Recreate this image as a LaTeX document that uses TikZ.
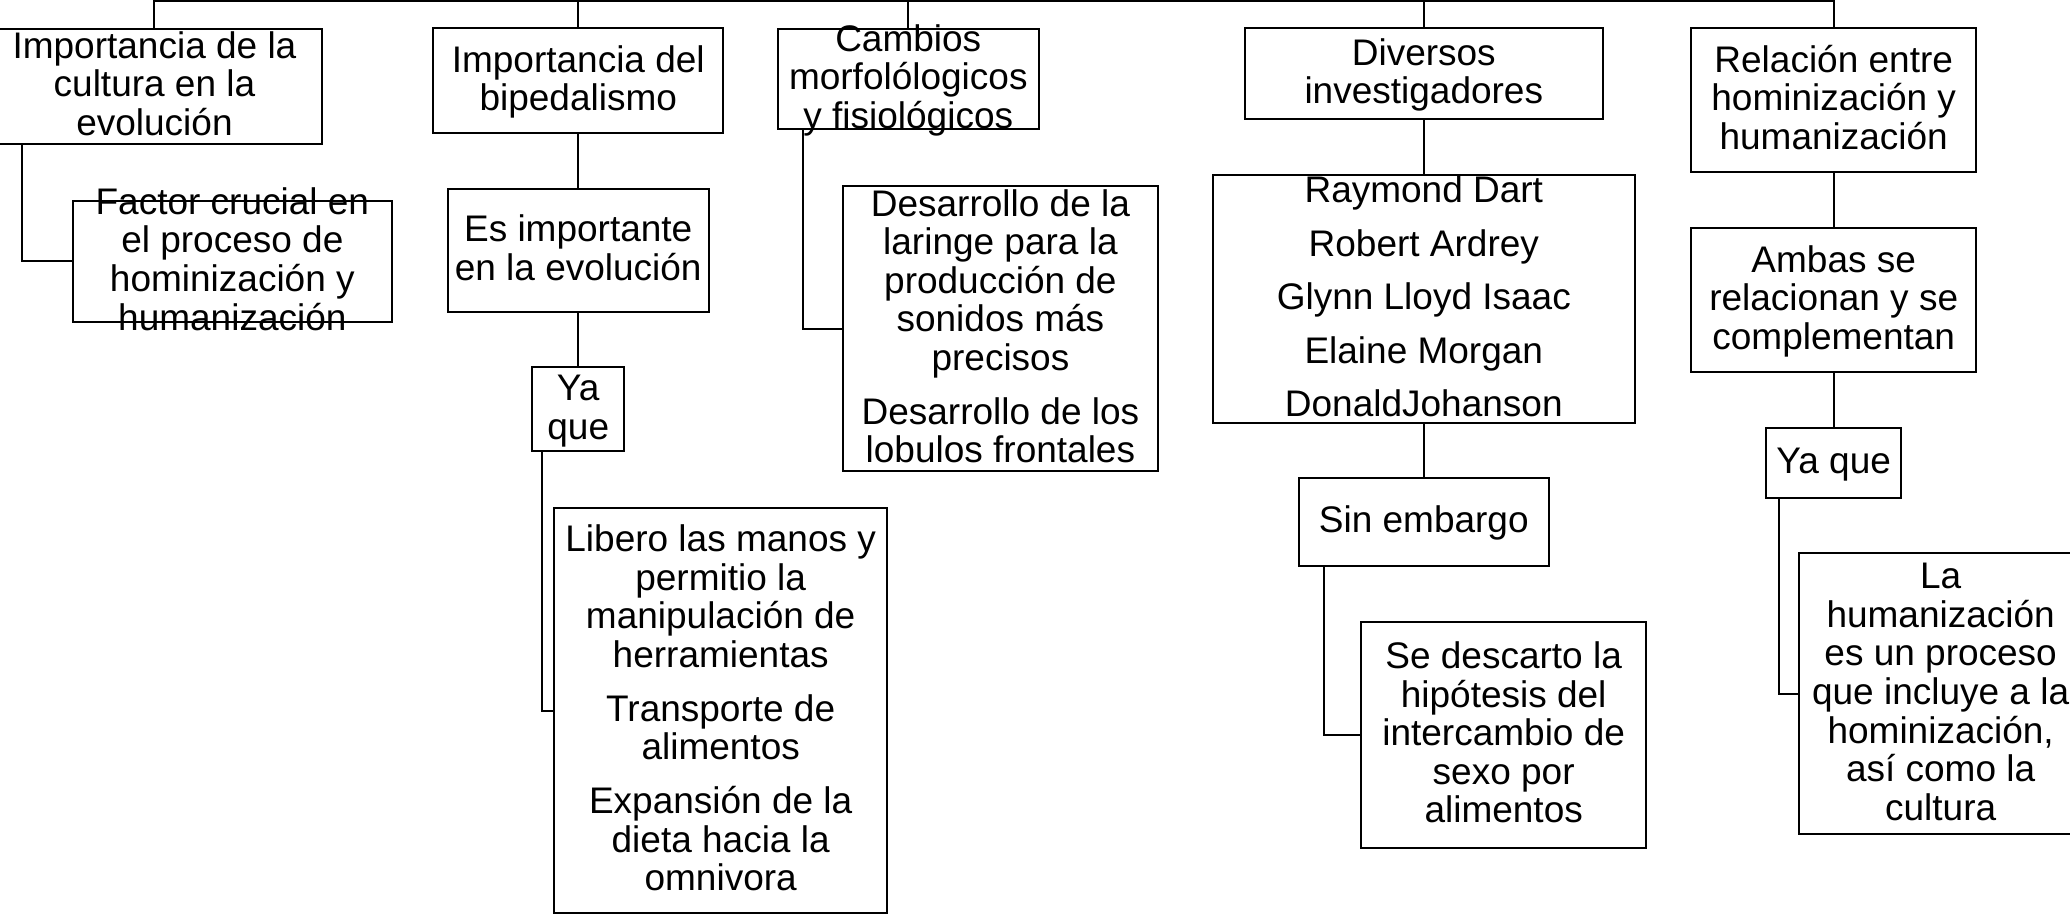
\documentclass[tikz,border=0pt]{standalone}
\usepackage{fontspec}
\setmainfont{Liberation Sans}
\usepackage{tikz}

% centred text block that does not change the size of its box
\newcommand\boxlines[1]{\makebox[0pt]{\lower3pt\vbox to 0pt{\vss\hbox{\begin{tabular}{@{}c@{}}#1\end{tabular}}\vss}}}

\begin{document}
\begin{tikzpicture}[x=0.6601pt, y=-0.6601pt, line width=1pt,
    cbox/.style 2 args={draw, rectangle, inner sep=0pt, minimum width=#1*0.6601pt, minimum height=#2*0.6601pt, font=\fontsize{18.5}{19.2}\selectfont}]
          \useasboundingbox (0,0) rectangle (1568,692);
          % cultura
          \node[cbox={254}{87}] (cult) at (117,65.5) {\boxlines{Importancia de la\\cultura en la\\evolución}};
          \node[cbox={242}{92}] (fact) at (176,198) {\boxlines{Factor crucial en\\el proceso de\\hominización y\\humanización}};
          % bipedalismo
          \node[cbox={220}{79.5}] (bip) at (438,61.3) {\boxlines{Importancia del\\bipedalismo}};
          \node[cbox={197.5}{92.6}] (evo) at (438,189.7) {\boxlines{Es importante\\en la evolución}};
          \node[cbox={69.3}{63.7}] (yaq1) at (438,310) {\boxlines{Ya\\que}};
          \node[cbox={252.3}{306.8}] (libe) at (545.9,538.2) {\boxlines{Libero las manos y\\permitio la\\manipulación de\\herramientas\\[7.8pt]Transporte de\\alimentos\\[7.8pt]Expansión de la\\dieta hacia la\\omnivora}};
          % cambios
          \node[cbox={198}{76}] (camb) at (688,60) {\boxlines{Cambios\\morfolólogicos\\y fisiológicos}};
          \node[cbox={238.5}{215.7}] (lari) at (757.8,249) {\boxlines{Desarrollo de la\\laringe para la\\producción de\\sonidos más\\precisos\\[7.8pt]Desarrollo de los\\lobulos frontales}};
          % investigadores
          \node[cbox={271}{69.4}] (dive) at (1078.5,55.7) {\boxlines{Diversos\\investigadores}};
          \node[cbox={319.5}{187.8}] (inve) at (1078.5,226.5) {\boxlines{Raymond Dart\\[7.6pt]Robert Ardrey\\[7.6pt]Glynn Lloyd Isaac\\[7.6pt]Elaine Morgan\\[7.6pt]DonaldJohanson}};
          \node[cbox={189}{66.6}] (sine) at (1078.5,395.3) {\boxlines{Sin embargo}};
          \node[cbox={216}{171.5}] (desc) at (1139,556.8) {\boxlines{Se descarto la\\hipótesis del\\intercambio de\\sexo por\\alimentos}};
          % relacion
          \node[cbox={215.7}{108.5}] (rela) at (1389,75.8) {\boxlines{Relación entre\\hominización y\\humanización}};
          \node[cbox={215.7}{108.5}] (amba) at (1389,227.2) {\boxlines{Ambas se\\relacionan y se\\complementan}};
          \node[cbox={102.5}{53}] (yaq2) at (1389,350.5) {\boxlines{Ya que}};
          \node[cbox={215}{213}] (huma) at (1470,525.5) {\boxlines{La\\humanización\\es un proceso\\que incluye a la\\hominización,\\así como la\\cultura}};
          % line along the top
          \coordinate (bar) at (0,0.8);
          \draw (cult.north) -- (cult.north |- bar) -- (rela.north |- bar) -- (rela.north);
          \foreach \n in {bip,camb,dive}
            \draw (\n.north) -- (\n.north |- bar);
          % lines down the columns
          \draw (bip.south) -- (evo.north);
          \draw (evo.south) -- (yaq1.north);
          \draw (dive.south) -- (inve.north);
          \draw (inve.south) -- (sine.north);
          \draw (rela.south) -- (amba.north);
          \draw (amba.south) -- (yaq2.north);
          % elbow lines to the side boxes
          \draw (cult.south west) ++(27.6,0) |- (fact.west);
          \draw (yaq1.south west) ++(8,0) |- (libe.west);
          \draw (camb.south west) ++(20,0) |- (lari.west);
          \draw (sine.south west) ++(19.6,0) |- (desc.west);
          \draw (yaq2.south west) ++(10.5,0) |- (huma.west);
        \end{tikzpicture}
\end{document}
